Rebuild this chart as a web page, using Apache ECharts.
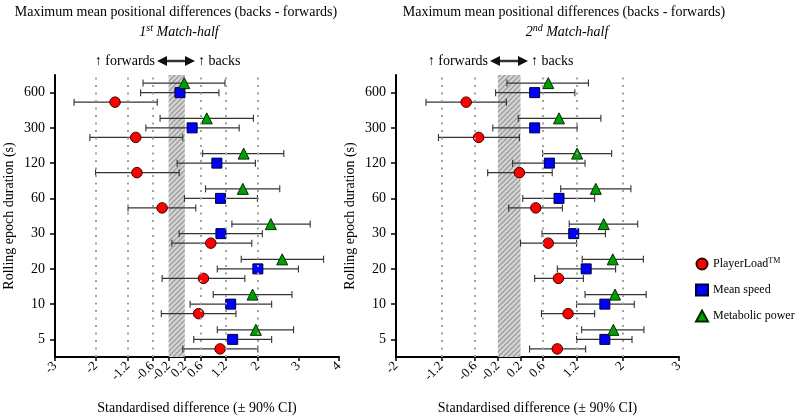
<!DOCTYPE html>
<html><head><meta charset="utf-8">
<script src="https://cdn.jsdelivr.net/npm/echarts@6/dist/echarts.min.js"></script>
<style>html,body{margin:0;padding:0;background:#fff}#c{width:800px;height:416px}</style>
</head><body><div id="c"></div>
<script>
// Rolling epoch durations (s), bottom to top
const durations = ['5','10','20','30','60','120','300','600'];
// Each entry: [mean, lower 90% CI, upper 90% CI], ordered 5 .. 600
const h1PlayerLoad = [[1.07,0.15,2.0],[0.54,-0.38,1.46],[0.66,-0.36,1.68],[0.84,-0.12,1.85],[-0.36,-1.2,0.47],[-0.98,-2.0,0.06],[-1.01,-2.14,0.15],[-1.52,-2.53,-0.48]];
const h1MeanSpeed  = [[1.38,0.42,2.34],[1.33,0.33,2.34],[2.0,1.0,3.0],[1.09,0.06,2.11],[1.08,0.19,1.99],[0.99,0.01,1.94],[0.38,-0.76,1.54],[0.08,-0.89,1.04]];
const h1Metabolic  = [[1.95,1.0,2.88],[1.87,0.90,2.84],[2.60,1.59,3.62],[2.32,1.36,3.29],[1.63,0.71,2.54],[1.65,0.64,2.64],[0.74,-0.41,1.89],[0.185,-0.83,1.19]];
const h2PlayerLoad = [[0.85,0.36,1.35],[1.04,0.57,1.51],[0.87,0.45,1.31],[0.69,0.20,1.19],[0.47,-0.01,0.94],[0.18,-0.38,0.76],[-0.54,-1.25,0.18],[-0.76,-1.47,-0.05]];
const h2MeanSpeed  = [[1.69,1.19,2.17],[1.69,1.19,2.21],[1.36,0.85,1.88],[1.14,0.58,1.70],[0.88,0.24,1.51],[0.71,0.06,1.34],[0.45,-0.29,1.20],[0.45,-0.24,1.16]];
const h2Metabolic  = [[1.84,1.28,2.38],[1.87,1.34,2.42],[1.83,1.29,2.37],[1.67,1.06,2.27],[1.53,0.91,2.15],[1.20,0.59,1.81],[0.88,0.16,1.62],[0.69,-0.04,1.40]];
// x-axis tick labels
const leftTicks  = [-3,-2,-1.2,-0.6,-0.2,0.2,0.6,1.2,2,3,4];
const rightTicks = [-2,-1.2,-0.6,-0.2,0.2,0.6,1.2,2,3];
// reference (dotted) lines and trivial band
const leftDotted  = [-2,-1.2,-0.6,0.6,1.2,2];
const rightDotted = [-1.2,-0.6,0.6,1.2,2];
const trivialBand = [-0.2, 0.2];

const FONT = "'Liberation Serif','Times New Roman',serif";
const chart = echarts.init(document.getElementById('c'), null, {renderer:'canvas'});

// hatch pattern
const pc = document.createElement('canvas');
pc.width = 5; pc.height = 5;
const g = pc.getContext('2d');
g.fillStyle = '#d6d6d6'; g.fillRect(0,0,5,5);
g.strokeStyle = '#9c9c9c'; g.lineWidth = 1.4;
g.beginPath();
g.moveTo(-1,6); g.lineTo(6,-1);
g.moveTo(-1,1); g.lineTo(1,-1);
g.moveTo(4,6); g.lineTo(6,4);
g.stroke();
const hatch = {image: pc, repeat: 'repeat'};

const OFF = {PlayerLoad: -0.27, 'Mean speed': 0, 'Metabolic power': 0.27};
const STY = {
  PlayerLoad: {symbol:'circle', size:10.5, color:'#ff0000', border:'#3a0000'},
  'Mean speed': {symbol:'rect', size:10, color:'#0000ff', border:'#000033'},
  'Metabolic power': {symbol:'triangle', size:11, color:'#00a000', border:'#002a00'}
};

function errSeries(data, idx, name) {
  const off = OFF[name];
  return {
    type:'custom', name: name + ' CI', xAxisIndex: idx, yAxisIndex: idx, silent:true, z:2,
    data: data.map((d,i)=>[d[1], d[2], i+off]),
    encode: {x:[0,1], y:2},
    renderItem: function(params, api) {
      const y = api.value(2);
      const p1 = api.coord([api.value(0), y]);
      const p2 = api.coord([api.value(1), y]);
      const h = 3.5;
      const st = {stroke:'#333', lineWidth:1.1};
      return {type:'group', children:[
        {type:'line', shape:{x1:p1[0],y1:p1[1],x2:p2[0],y2:p2[1]}, style:st},
        {type:'line', shape:{x1:p1[0],y1:p1[1]-h,x2:p1[0],y2:p1[1]+h}, style:st},
        {type:'line', shape:{x1:p2[0],y1:p2[1]-h,x2:p2[0],y2:p2[1]+h}, style:st}
      ]};
    }
  };
}
function ptSeries(data, idx, name) {
  const s = STY[name], off = OFF[name];
  return {
    type:'scatter', name: name, xAxisIndex: idx, yAxisIndex: idx, z:3,
    symbol: s.symbol, symbolSize: s.size,
    itemStyle: {color: s.color, borderColor: s.border, borderWidth: 1, opacity: 1},
    emphasis: {disabled: true},
    data: data.map((d,i)=>[d[0], i+off])
  };
}
function refSeries(idx, dotted) {
  return {
    type:'line', xAxisIndex: idx, yAxisIndex: idx, data: [], z:1, silent:true,
    markLine: {silent:true, symbol:'none', label:{show:false},
      lineStyle:{type:[2,5.5], width:2, color:'#a0a0a0', cap:'butt'},
      emphasis:{disabled:true},
      data: dotted.map(v=>({xAxis:v}))},
    markArea: {silent:true, itemStyle:{color: hatch}, emphasis:{disabled:true},
      data: [[{xAxis: trivialBand[0]}, {xAxis: trivialBand[1]}]]}
  };
}

const yIdx = durations.map((d,i)=>i);
function xAxisCfg(idx, min, max, ticks) {
  return {
    type:'value', gridIndex: idx, min: min, max: max,
    name: 'Standardised difference (± 90% CI)', nameLocation:'middle', nameGap: 44,
    nameTextStyle: {fontFamily: FONT, fontSize: 14, color:'#000'},
    axisLine: {show:true, onZero:false, lineStyle:{color:'#000', width:2}},
    axisTick: {show:true, length:4, customValues: ticks, lineStyle:{color:'#000', width:1.5}},
    axisLabel: {customValues: ticks, rotate:45, margin:7, fontFamily: FONT, fontSize: 13, color:'#000',
      formatter: v => String(v)},
    splitLine: {show:false}
  };
}
function yAxisCfg(idx, gap) {
  return {
    type:'value', gridIndex: idx, min:-0.5, max:7.5,
    name: 'Rolling epoch duration (s)', nameLocation:'middle', nameGap: gap,
    nameTextStyle: {fontFamily: FONT, fontSize: 14, color:'#000'},
    axisLine: {show:true, onZero:false, lineStyle:{color:'#000', width:2}},
    axisTick: {show:true, length:5, customValues: yIdx, lineStyle:{color:'#000', width:1.5}},
    axisLabel: {customValues: yIdx, margin:10, fontFamily: FONT, fontSize: 14, color:'#000',
      formatter: v => durations[Math.round(v)]},
    splitLine: {show:false}
  };
}

function arrowGraphics(cx, y) {
  return [
    {type:'text', style:{text:'↑ forwards', x: cx-21, y: y, align:'right', verticalAlign:'middle', font:'14px '+FONT, fill:'#000'}},
    {type:'line', shape:{x1:cx-10, y1:y, x2:cx+10, y2:y}, style:{stroke:'#333', lineWidth:2.5}},
    {type:'polygon', shape:{points:[[cx-19,y],[cx-9,y-5],[cx-9,y+5]]}, style:{fill:'#111'}},
    {type:'polygon', shape:{points:[[cx+19,y],[cx+9,y-5],[cx+9,y+5]]}, style:{fill:'#111'}},
    {type:'text', style:{text:'↑ backs', x: cx+22, y: y, align:'left', verticalAlign:'middle', font:'14px '+FONT, fill:'#000'}}
  ];
}
function titleGraphics(cx, ord) {
  return [
    {type:'text', style:{text:'Maximum mean positional differences (backs - forwards)', x: cx, y: 12,
      align:'center', verticalAlign:'middle', font:'14px '+FONT, fill:'#000'}},
    {type:'text', style:{text:'{n|' + ord[0] + '}{s|' + ord[1] + '}{n| Match-half}', x: cx + 3, y: 31,
      align:'center', verticalAlign:'middle', fill:'#000',
      rich:{n:{fontFamily:FONT, fontStyle:'italic', fontSize:14, verticalAlign:'bottom'},
            s:{fontFamily:FONT, fontStyle:'italic', fontSize:10, verticalAlign:'top', padding:[0,0,6,0]}}}}
  ];
}

const option = {
  animation: false,
  backgroundColor: '#fff',
  grid: [
    {left:55, top:75, width:284, height:282, outerBoundsMode:'none', containLabel:false},
    {left:396, top:75, width:283, height:282, outerBoundsMode:'none', containLabel:false}
  ],
  xAxis: [xAxisCfg(0, -3, 4, leftTicks), xAxisCfg(1, -2, 3, rightTicks)],
  yAxis: [yAxisCfg(0, 39), yAxisCfg(1, 39)],
  legend: {
    orient:'vertical', left: 690, top: 252, itemGap: 13, itemWidth: 12, itemHeight: 11,
    data: ['PlayerLoad','Mean speed','Metabolic power'],
    selectedMode: false,
    formatter: n => n === 'PlayerLoad' ? 'PlayerLoad{sup|TM}' : n,
    textStyle: {fontFamily: FONT, fontSize: 12, color:'#000',
      rich:{sup:{fontFamily: FONT, fontSize: 8, verticalAlign:'top', padding:[0,0,6,0]}}}
  },
  graphic: [].concat(
    titleGraphics(176, ['1','st']),
    titleGraphics(564, ['2','nd']),
    arrowGraphics(176, 61),
    arrowGraphics(509, 61)
  ),
  series: [
    refSeries(0, leftDotted), refSeries(1, rightDotted),
    errSeries(h1PlayerLoad,0,'PlayerLoad'), errSeries(h1MeanSpeed,0,'Mean speed'), errSeries(h1Metabolic,0,'Metabolic power'),
    errSeries(h2PlayerLoad,1,'PlayerLoad'), errSeries(h2MeanSpeed,1,'Mean speed'), errSeries(h2Metabolic,1,'Metabolic power'),
    ptSeries(h1PlayerLoad,0,'PlayerLoad'), ptSeries(h1MeanSpeed,0,'Mean speed'), ptSeries(h1Metabolic,0,'Metabolic power'),
    ptSeries(h2PlayerLoad,1,'PlayerLoad'), ptSeries(h2MeanSpeed,1,'Mean speed'), ptSeries(h2Metabolic,1,'Metabolic power')
  ]
};
chart.setOption(option);
</script>
</body></html>
